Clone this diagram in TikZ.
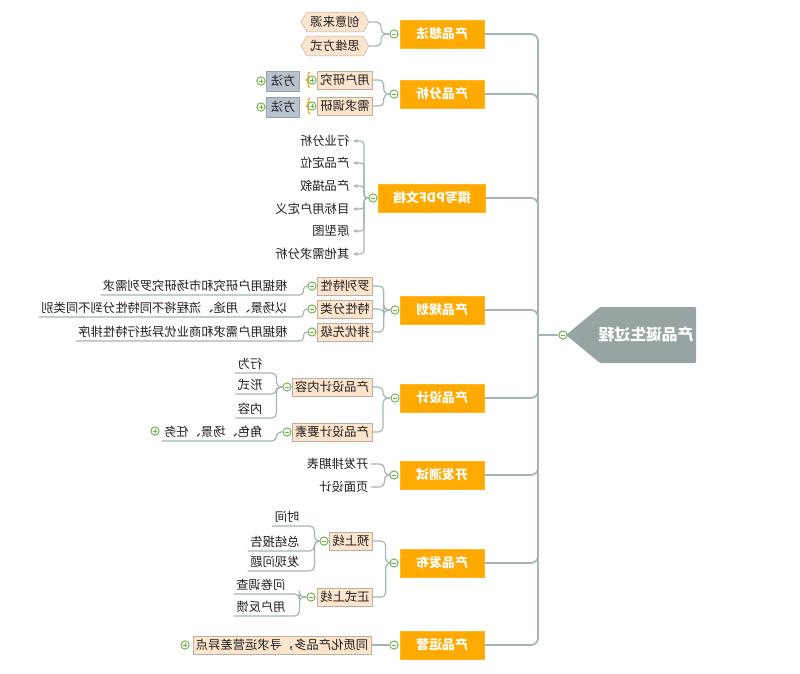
\documentclass[tikz,border=0pt]{standalone}
\usepackage{fontspec}
\setmainfont{Noto Sans CJK SC}
\usepackage{graphicx}
\usetikzlibrary{calc}
\usetikzlibrary{shapes}
\usetikzlibrary{arrows.meta}
\usetikzlibrary{decorations.pathreplacing}
\definecolor{mainorange}{RGB}{255,170,0}
\definecolor{linkgray}{RGB}{165,180,180}
\definecolor{toggreen}{RGB}{110,180,70}
\definecolor{peach}{RGB}{253,228,204}
\definecolor{peachline}{RGB}{190,175,160}
\definecolor{methodgray}{RGB}{184,194,204}
\definecolor{methodline}{RGB}{150,160,170}
\definecolor{rootgray}{RGB}{150,164,164}
\definecolor{braceorange}{RGB}{245,170,20}
\definecolor{textdark}{RGB}{30,30,30}
\newcommand{\fl}[1]{\reflectbox{#1}}
\tikzset{
  mainbox/.style={draw=mainorange!85!white, fill=mainorange, text=white,
    font=\fontsize{11}{13}\selectfont\bfseries, minimum width=72pt, minimum height=23.5pt, inner sep=2pt},
  subbox/.style={draw=peachline, fill=peach, text=textdark, font=\fontsize{10.5}{12}\selectfont,
    minimum height=15pt, inner xsep=2.5pt, inner ysep=1pt},
  hexbox/.style={subbox, signal, signal to=west and east, signal pointer angle=120,
    minimum height=17pt, inner xsep=3pt},
  methodbox/.style={draw=methodline, fill=methodgray, text=textdark, font=\fontsize{10.5}{12}\selectfont,
    minimum height=17pt, minimum width=28pt, inner sep=1pt},
  leaf/.style={text=textdark, font=\fontsize{10.5}{12}\selectfont, inner xsep=2pt, inner ysep=1pt,
    minimum height=15pt, anchor=east},
  roottext/.style={text=white, font=\fontsize{13.5}{15}\selectfont\bfseries},
  tog/.style={circle, draw=toggreen, fill=white, line width=0.8pt, minimum size=7pt, inner sep=0pt},
  togminus/.style={tog, path picture={\draw[toggreen, line width=0.8pt]
    ([xshift=-2pt]path picture bounding box.center) -- ([xshift=2pt]path picture bounding box.center);}},
  togplus/.style={tog, path picture={\draw[toggreen, line width=0.8pt]
    ([xshift=-2pt]path picture bounding box.center) -- ([xshift=2pt]path picture bounding box.center)
    ([yshift=-2pt]path picture bounding box.center) -- ([yshift=2pt]path picture bounding box.center);}},
  link/.style={draw=linkgray, line width=1pt, rounded corners=4pt},
  trunk/.style={draw=linkgray, line width=1.5pt, rounded corners=6pt}
}
\begin{document}
\begin{tikzpicture}[x=0.03cm,y=-0.03cm]
\useasboundingbox (0,0) rectangle (800,674);
% the root
\fill[rootgray, rounded corners=1pt] (566,335) -- (600,307) -- (696,307) -- (696,363) -- (600,363) -- cycle;
\node[roottext] (root) at (646,335) {\fl{产品诞生过程}};
\node[togminus] (troot) at (563,335) {};
\coordinate (jn) at (538,335);
\draw[trunk] (troot) -- (jn);
% main branches
\node[mainbox] (idea) at (442,34) {\fl{产品想法}};
\node[mainbox] (analysis) at (442,94) {\fl{产品分析}};
\node[mainbox, minimum width=91pt] (pdfdoc) at (432,198) {\fl{撰写PDF文档}};
\node[mainbox] (plan) at (442,310) {\fl{产品规划}};
\node[mainbox] (design) at (442,398) {\fl{产品设计}};
\node[mainbox] (devtest) at (442,475) {\fl{开发测试}};
\node[mainbox] (release) at (442,563) {\fl{产品发布}};
\node[mainbox] (operate) at (442,645) {\fl{产品运营}};
\foreach \m in {idea,analysis,pdfdoc,plan,design,devtest,release,operate}
  \draw[trunk] (\m.east) -| (jn);
\node[togminus] (tidea) at (394,34) {};
\node[togminus] (tanalysis) at (394,94) {};
\node[togminus] (tpdf) at (373,198) {};
\node[togminus] (tplan) at (395,310) {};
\node[togminus] (tdesign) at (395,398) {};
\node[togminus] (ttest) at (394,475) {};
\node[togminus] (trelease) at (394,563) {};
\node[togminus] (toperate) at (394,645) {};
% 1st branch
\node[hexbox] (source) at (335,22) {\fl{创意来源}};
\node[hexbox] (thinking) at (335,46) {\fl{思维方式}};
\foreach \c in {source,thinking}
  \draw[link] (tidea.west) -| ($(\c.east)+(12,0)$) -- (\c.east);
% 2nd branch
\node[subbox] (userres) at (345,80) {\fl{用户研究}};
\node[subbox] (demand) at (345,106) {\fl{需求调研}};
\foreach \c in {userres,demand}
  \draw[link] (tanalysis.west) -| ($(\c.east)+(11,0)$) -- (\c.east);
\draw[braceorange, line width=1.1pt, decorate, decoration={brace, amplitude=3pt}] (310,88) -- (310,72);
\draw[braceorange, line width=1.1pt, decorate, decoration={brace, amplitude=3pt}] (310,114) -- (310,98);
\node[togplus] (puser) at (312,80) {};
\node[togplus] (pdemand) at (312,106) {};
\node[methodbox] (muser) at (283,81) {\fl{方法}};
\node[methodbox] (mdemand) at (283,107) {\fl{方法}};
\node[togplus] (quser) at (261,81) {};
\node[togplus] (qdemand) at (261,107) {};
% 3rd branch
\coordinate (v3) at (364,198);
\node[leaf, inner xsep=3pt] (industry) at (353,141) {\fl{行业分析}};
\node[leaf, inner xsep=3pt] (position) at (353,163) {\fl{产品定位}};
\node[leaf, inner xsep=3pt] (describe) at (353,186) {\fl{产品描叙}};
\node[leaf, inner xsep=3pt] (target) at (353,209) {\fl{目标用户定义}};
\node[leaf, inner xsep=3pt] (proto) at (353,231) {\fl{原型图}};
\node[leaf, inner xsep=3pt] (other) at (353,254) {\fl{其他需求分析}};
\foreach \c in {industry,position,describe,target,proto,other}
  \draw[link, rounded corners=3pt, -{Stealth[length=4pt,width=3.5pt]}] (tpdf.west) -| (\c.east -| v3) -- (\c.east);
% 4th branch
\node[subbox] (listing) at (345,286) {\fl{罗列特性}};
\node[subbox] (sorting) at (345,309) {\fl{特性分类}};
\node[subbox] (ranking) at (345,332) {\fl{排优先级}};
\foreach \c in {listing,sorting,ranking}
  \draw[link] (tplan.west) -| ($(\c.east)+(11,0)$) -- (\c.east);
\node[togminus] (tlisting) at (312,286) {};
\node[togminus] (tsorting) at (312,309) {};
\node[togminus] (tranking) at (312,332) {};
\node[leaf] (glisting) at (290,286) {\fl{根据用户研究和市场研究罗列需求}};
\node[leaf] (gsorting) at (290,308) {\fl{以场景、用途、流程将不同特性分到不同类别}};
\node[leaf] (granking) at (290,332) {\fl{根据用户需求和商业优异进行特性排序}};
\draw[link, rounded corners=3pt] (glisting.south west) -| ($(tlisting.west)+(-4,0)$) -- (tlisting.west);
\draw[link, rounded corners=3pt] (gsorting.south west) -| ($(tsorting.west)+(-4,0)$) -- (tsorting.west);
\draw[link, rounded corners=3pt] (granking.south west) -| ($(tranking.west)+(-4,0)$) -- (tranking.west);
% 5th branch
\node[subbox] (content) at (332,387) {\fl{产品设计内容}};
\node[subbox] (element) at (332,432) {\fl{产品设计要素}};
\foreach \c in {content,element}
  \draw[link] (tdesign.west) -| ($(\c.east)+(11,0)$) -- (\c.east);
\node[togminus] (tcontent) at (287,387) {};
\node[togminus] (telement) at (287,432) {};
\node[leaf] (behave) at (265,364) {\fl{行为}};
\node[leaf] (form) at (265,385) {\fl{形式}};
\node[leaf] (inner) at (265,409) {\fl{内容}};
\foreach \c in {behave,form,inner}
  \draw[link] (\c.south west) -| ($(tcontent.west)+(-6,0)$) -- (tcontent.west);
\node[leaf] (role) at (265,432) {\fl{角色、场景、任务}};
\draw[link] (role.south west) -| ($(telement.west)+(-6,0)$) -- (telement.west);
\node[togplus] (prole) at (155,431) {};
% 6th branch
\node[leaf] (schedule) at (371,464) {\fl{开发排期表}};
\node[leaf] (pages) at (371,487) {\fl{页面设计}};
\foreach \c in {schedule,pages}
  \draw[link] (\c.east) -| ($(ttest.west)+(-5,0)$) -- (ttest.west);
% 7th branch
\node[subbox] (prelaunch) at (351,541) {\fl{预上线}};
\node[subbox] (launch) at (345,597) {\fl{正式上线}};
\foreach \c in {prelaunch,launch}
  \draw[link] (trelease.west) -| ($(\c.east)+(13,0)$) -- (\c.east);
\node[togminus] (tprelaunch) at (324,541) {};
\node[togminus] (tlaunch) at (311,597) {};
\node[leaf] (timing) at (302,517) {\fl{时间}};
\node[leaf] (report) at (302,542) {\fl{总结报告}};
\node[leaf] (issues) at (302,562) {\fl{发现问题}};
\foreach \c in {timing,report,issues}
  \draw[link] (\c.south west) -| ($(tprelaunch.west)+(-5,0)$) -- (tprelaunch.west);
\node[leaf] (survey) at (288,585) {\fl{问卷调查}};
\node[leaf] (feedback) at (288,607) {\fl{用户反馈}};
\foreach \c in {survey,feedback}
  \draw[link] (\c.south west) -| ($(tlaunch.west)+(-7,0)$) -- (tlaunch.west);
% 8th branch
\node[subbox] (diff) at (282,645) {\fl{同质化产品多，寻求运营差异点}};
\draw[link] (diff.east) -- (toperate.west);
\node[togplus] (pdiff) at (185,645) {};
\end{tikzpicture}
\end{document}
